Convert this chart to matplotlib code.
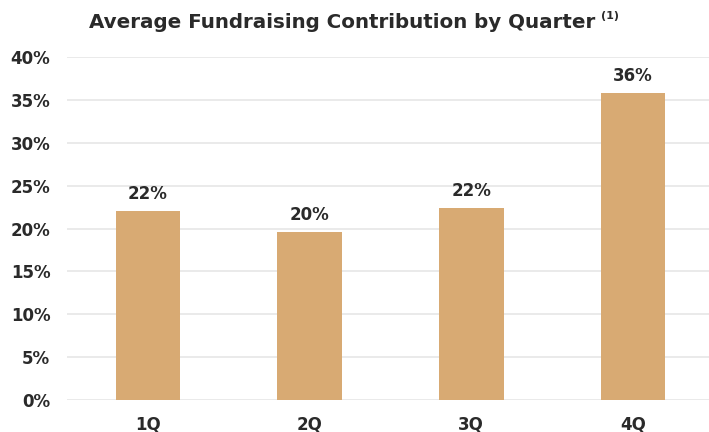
import matplotlib
matplotlib.use("Agg")
import matplotlib.pyplot as plt

quarters = ["1Q", "2Q", "3Q", "4Q"]
contribution = [22.0, 19.6, 22.4, 35.8]  # percent of annual fundraising
yticks = [0, 5, 10, 15, 20, 25, 30, 35, 40]

BAR = "#d8aa73"
GRID = "#e6e6e6"
INK = "#2a2a2a"

plt.rcParams["font.family"] = ["DejaVu Sans"]
plt.rcParams["font.weight"] = "bold"

fig = plt.figure(figsize=(7.09, 4.32), dpi=100)
ax = fig.add_axes([0.0945, 0.074, 0.9055, 0.794])

x = range(len(quarters))
bars = ax.bar(x, contribution, width=0.4, color=BAR, zorder=3)
for b, v in zip(bars, contribution):
    ax.annotate(f"{v:.0f}%", (b.get_x() + b.get_width() / 2, v),
                xytext=(0, 6), textcoords="offset points",
                ha="center", va="bottom", fontsize=12,
                fontweight="bold", color=INK)

ax.set_xlim(-0.5, 3.47)
ax.set_ylim(0, 40)
ax.set_yticks(yticks)
ax.set_yticklabels([f"{t}%" for t in yticks])
ax.set_xticks(list(x))
ax.set_xticklabels(quarters)
ax.grid(axis="y", color=GRID, linewidth=1.2, zorder=0)
ax.tick_params(length=0, labelsize=12, colors=INK)
ax.tick_params(axis="y", pad=12)
ax.tick_params(axis="x", pad=11)
for s in ax.spines.values():
    s.set_visible(False)

# title with a small footnote marker to its right
fig.text(0.483, 0.948, "Average Fundraising Contribution by Quarter",
         ha="center", va="center", fontsize=14.3, fontweight="bold", color=INK)
fig.text(0.848, 0.962, "(1)", ha="left", va="center", fontsize=8,
         fontweight="bold", color=INK)

fig.savefig("out.png", dpi=100)
